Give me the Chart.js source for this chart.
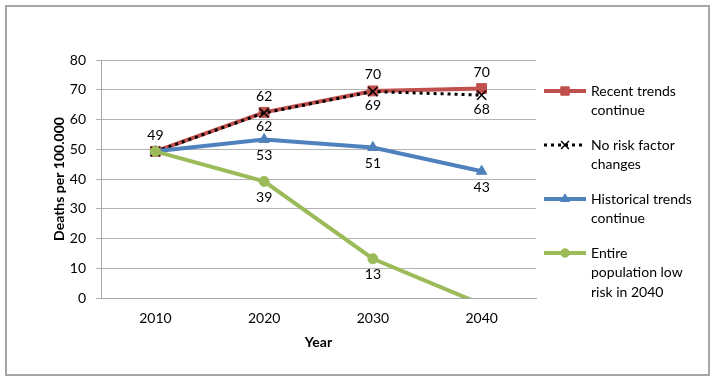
<!DOCTYPE html>
<html><head><meta charset="utf-8">
<script src="https://cdn.jsdelivr.net/npm/chart.js@4/dist/chart.umd.min.js"></script>
<style>html,body{margin:0;padding:0;background:#fff}</style>
</head><body>
<canvas id="c" width="716" height="383"></canvas>
<script>
// ---- data ----
const years = ['2010', '2020', '2030', '2040'];
const seriesNames = ['Recent trends continue', 'No risk factor changes', 'Historical trends continue', 'Entire population low risk in 2040'];
const recentTrends = [49.3, 62.4, 69.6, 70.4];
const noRiskChange = [49.2, 62.2, 69.4, 68.2];
const historicalTrends = [49.3, 53.3, 50.6, 42.6];
const lowRisk2040 = [49.3, 39.2, 13.2, -2.1];
// which values carry a visible label, and where (a = above, b = below)
const recentLabels = ['a', 'a', 'a', 'a'];
const noRiskLabels = [null, 'b', 'b', 'b'];
const historicalLabels = [null, 'b', 'b', 'b'];
const lowRiskLabels = [null, 'b', 'b', null];
const yMin = 0, yMax = 80, yStep = 10;

const FONT = 'Lato, "Open Sans", sans-serif';

const labelPlugin = {
  id: 'pointLabels',
  afterDatasetsDraw(chart) {
    const ctx = chart.ctx;
    ctx.save();
    ctx.font = '14px ' + FONT;
    ctx.fillStyle = '#000';
    ctx.textAlign = 'center';
    ctx.textBaseline = 'middle';
    chart.data.datasets.forEach((ds, di) => {
      const meta = chart.getDatasetMeta(di);
      meta.data.forEach((pt, i) => {
        const pos = ds.labelPos[i];
        const v = ds.data[i];
        if (!pos || v < yMin) return;
        const dy = pos === 'a' ? -16 : (ds.belowOffset || 16);
        ctx.fillText(String(Math.round(v)), pt.x, pt.y + dy);
      });
    });
    ctx.restore();
  }
};

const legendPlugin = {
  id: 'sideLegend',
  afterDraw(chart) {
    const ctx = chart.ctx;
    ctx.save();
    // outer frame
    ctx.strokeStyle = '#a6a6a6';
    ctx.lineWidth = 2;
    ctx.strokeRect(6, 6, 703, 369);

    ctx.font = '14px ' + FONT;
    const x0 = 544, x1 = 586, tx = 591, maxW = 103, lh = 19.5;
    let y = 91;
    chart.data.datasets.forEach(ds => {
      // wrap text
      const words = ds.label.split(' ');
      const lines = [];
      let cur = '';
      words.forEach(w => {
        const t = cur ? cur + ' ' + w : w;
        if (cur && ctx.measureText(t).width > maxW) { lines.push(cur); cur = w; }
        else cur = t;
      });
      if (cur) lines.push(cur);
      // sample line
      ctx.strokeStyle = ds.borderColor;
      ctx.lineWidth = ds.borderWidth;
      ctx.setLineDash(ds.borderDash || []);
      ctx.beginPath(); ctx.moveTo(x0, y); ctx.lineTo(x1, y); ctx.stroke();
      ctx.setLineDash([]);
      ctx.fillStyle = ds.pointBackgroundColor;
      ctx.strokeStyle = ds.pointBorderColor;
      ctx.lineWidth = ds.pointBorderWidth;
      Chart.helpers.drawPoint(ctx, {pointStyle: ds.pointStyle, radius: ds.pointRadius * 0.85, borderWidth: ds.pointBorderWidth, rotation: 0}, (x0 + x1) / 2, y);
      // text
      ctx.fillStyle = '#000';
      ctx.textAlign = 'left';
      ctx.textBaseline = 'middle';
      lines.forEach((l, k) => ctx.fillText(l, tx, y + k * lh));
      y += lines.length * lh + 15;
    });
    ctx.restore();
  }
};

new Chart(document.getElementById('c'), {
  type: 'line',
  data: {
    labels: years,
    datasets: [
      {label: seriesNames[0], data: recentTrends, labelPos: recentLabels,
       borderColor: '#C0504D', backgroundColor: '#C0504D', borderWidth: 4,
       pointStyle: 'rect', pointRadius: 7, pointBackgroundColor: '#C0504D', pointBorderColor: '#C0504D', pointBorderWidth: 1, order: 4},
      {label: seriesNames[1], data: noRiskChange, labelPos: noRiskLabels, belowOffset: 14,
       borderColor: '#000000', backgroundColor: '#000000', borderWidth: 3, borderDash: [3, 4],
       pointStyle: 'crossRot', pointRadius: 6.5, pointBackgroundColor: '#000000', pointBorderColor: '#000000', pointBorderWidth: 1.5, order: 3},
      {label: seriesNames[2], data: historicalTrends, labelPos: historicalLabels,
       borderColor: '#4F81BD', backgroundColor: '#4F81BD', borderWidth: 4,
       pointStyle: 'triangle', pointRadius: 6, pointBackgroundColor: '#4F81BD', pointBorderColor: '#4F81BD', pointBorderWidth: 1, order: 2},
      {label: seriesNames[3], data: lowRisk2040, labelPos: lowRiskLabels, clip: 0,
       borderColor: '#9BBB59', backgroundColor: '#9BBB59', borderWidth: 4,
       pointStyle: 'circle', pointRadius: 5, pointBackgroundColor: '#9BBB59', pointBorderColor: '#9BBB59', pointBorderWidth: 1, order: 1}
    ]
  },
  options: {
    responsive: false,
    animation: false,
    layout: {padding: {left: 47, right: 180, top: 60, bottom: 28}},
    elements: {line: {tension: 0}},
    plugins: {legend: {display: false}, tooltip: {enabled: false}},
    scales: {
      x: {
        offset: true,
        grid: {display: false, drawTicks: false, offset: true},
        border: {display: true, color: '#a6a6a6', width: 1},
        ticks: {padding: 12, color: '#000', font: {family: FONT, size: 14}},
        title: {display: true, text: 'Year', color: '#000', font: {family: FONT, size: 14, weight: 'bold'}, padding: {top: 4, bottom: 4}},
        afterFit(s) { s.height = 57; }
      },
      y: {
        min: yMin, max: yMax,
        ticks: {stepSize: yStep, padding: 10, color: '#000', font: {family: FONT, size: 14}},
        grid: {color: '#b3b3b3', tickLength: 5},
        border: {color: '#a6a6a6'},
        title: {display: true, text: 'Deaths per 100.000', color: '#000', font: {family: FONT, size: 14, weight: 'bold'}, padding: {top: 4, bottom: 4}},
        afterFit(s) { s.width = 54; }
      }
    }
  },
  plugins: [labelPlugin, legendPlugin]
});
</script>
</body></html>
